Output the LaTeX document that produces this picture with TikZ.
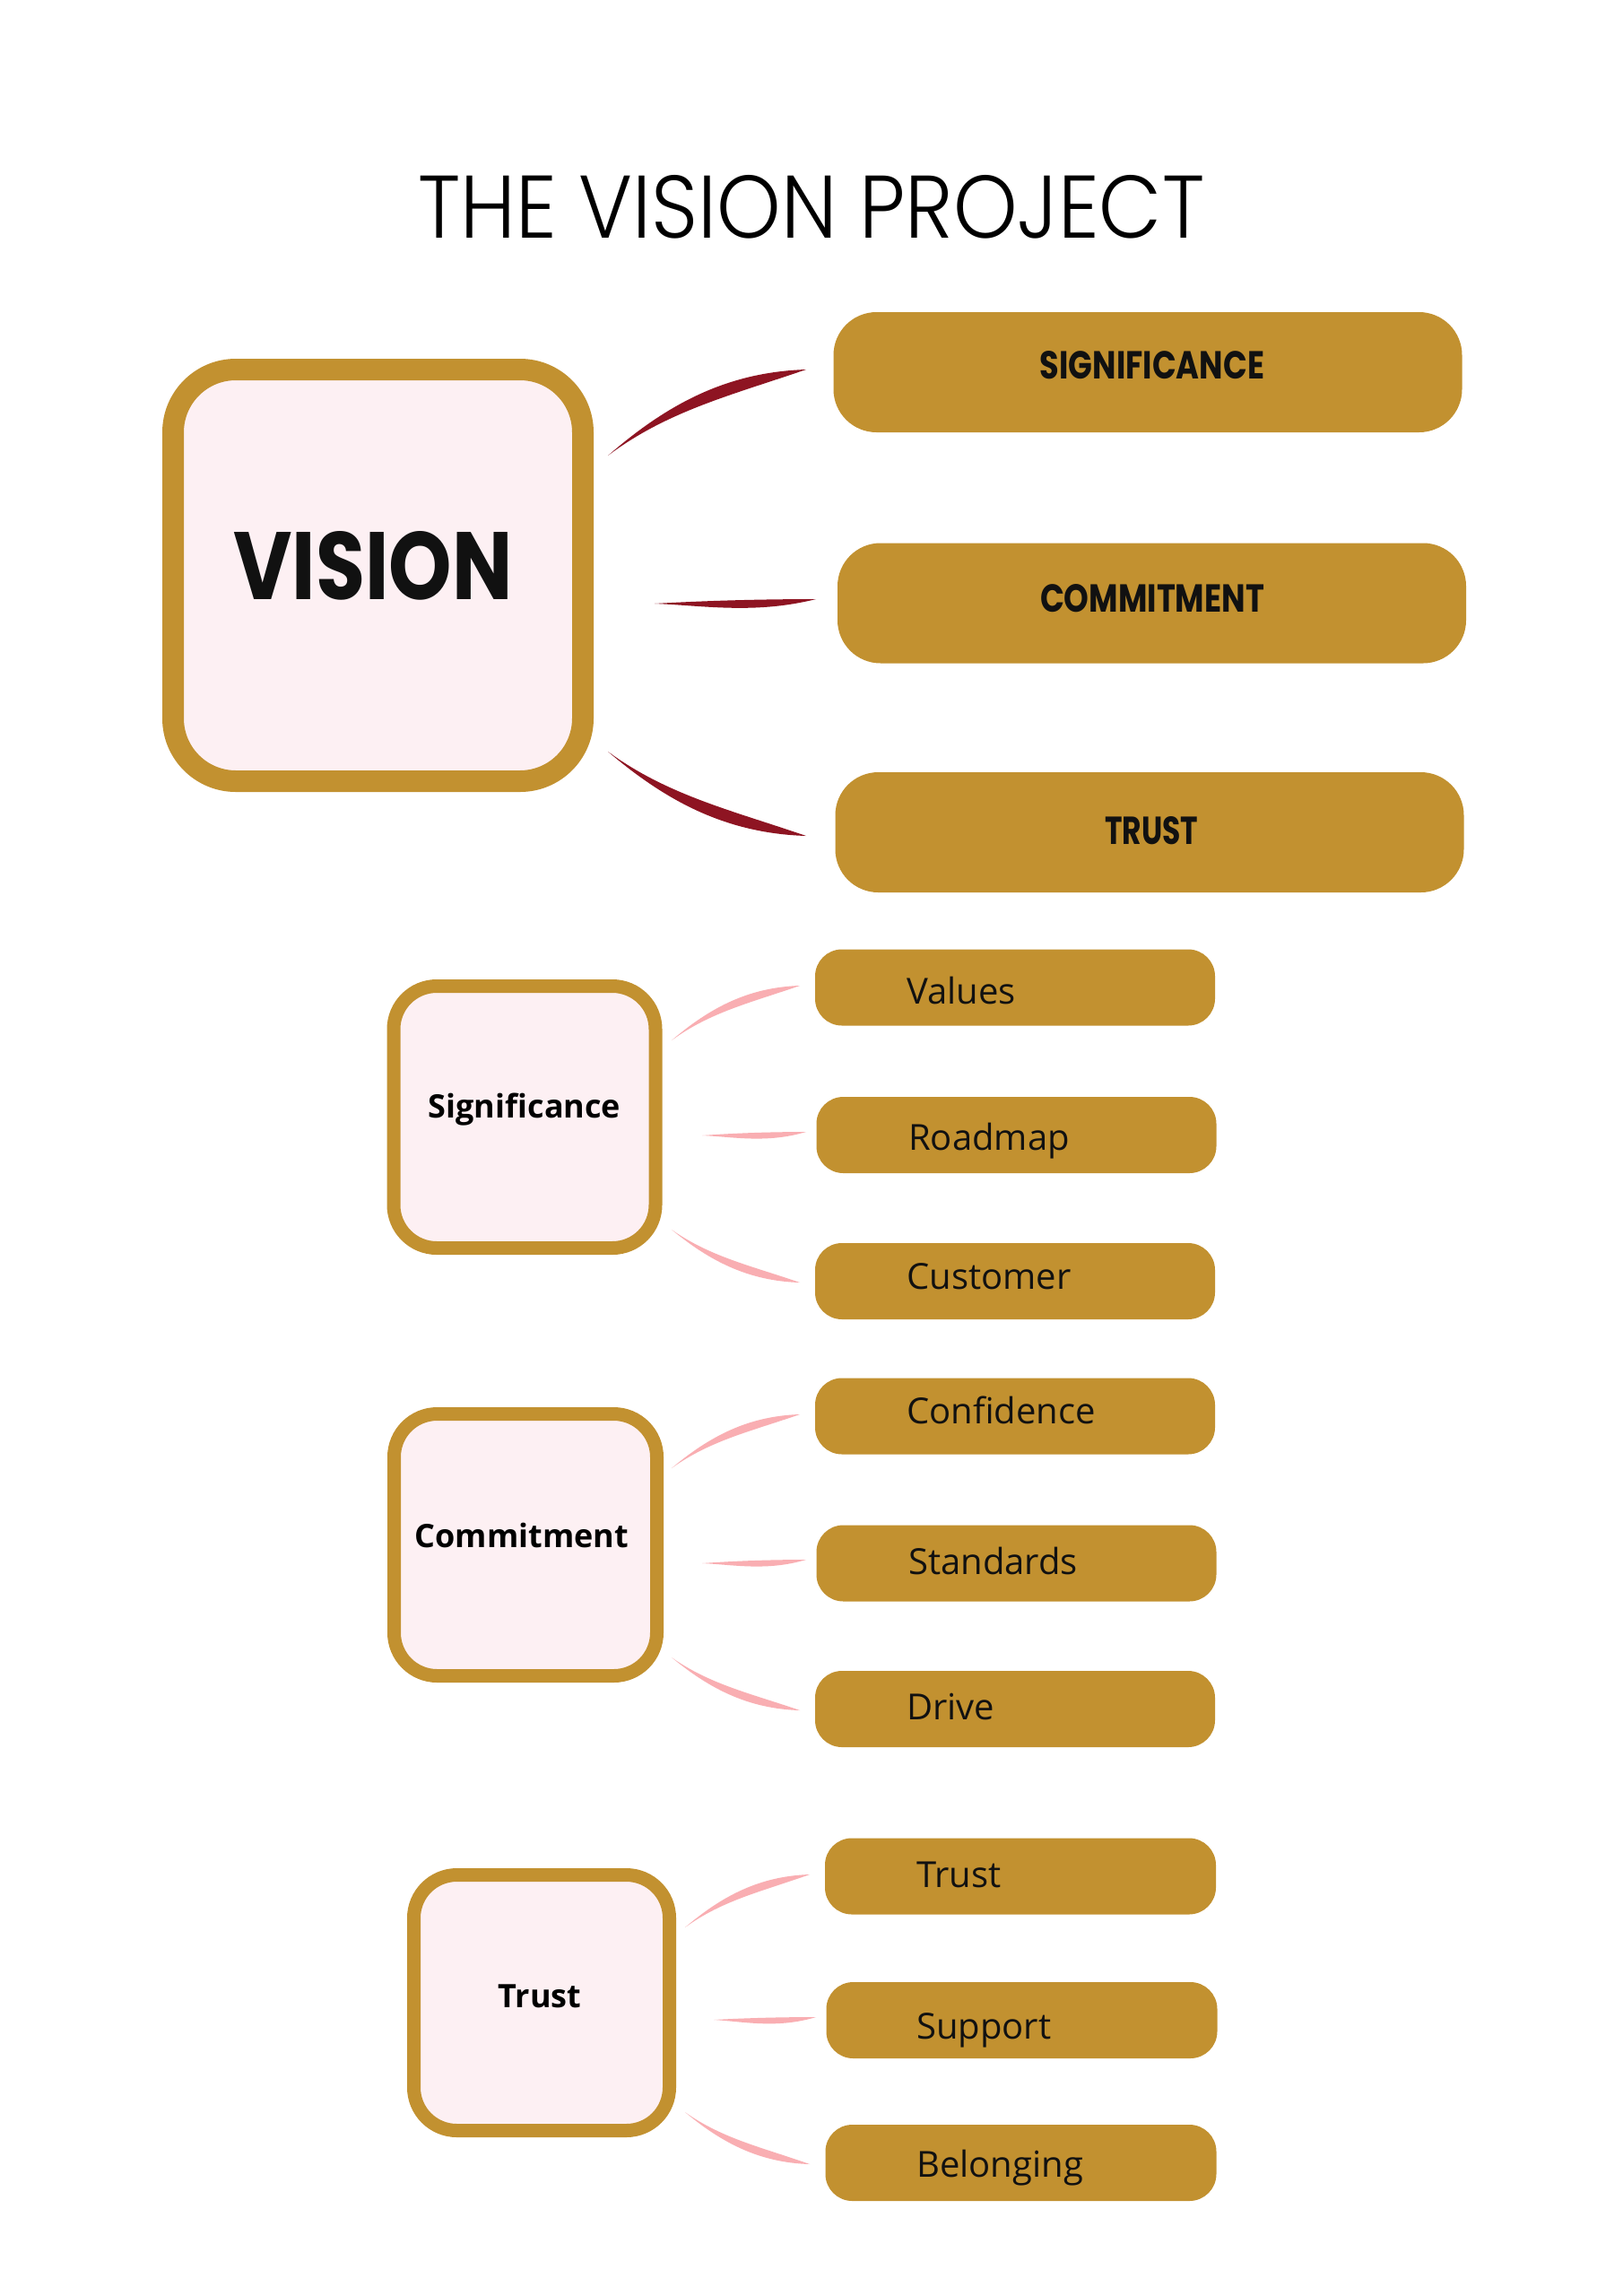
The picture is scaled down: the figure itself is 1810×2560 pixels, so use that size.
\documentclass[tikz,border=0pt]{standalone}
\usepackage{fontspec}
\setmainfont{Open Sans}
\newfontfamily\titlefont{Poppins}
\newfontfamily\titlelight{Poppins}[UprightFont=* Light]
\usetikzlibrary{calc}
\definecolor{gold}{HTML}{C29130}
\definecolor{blush}{HTML}{FDF0F3}
\definecolor{crimson}{HTML}{8E1422}
\definecolor{rose}{HTML}{F9AEB2}
\definecolor{ink}{HTML}{111111}
% tapered connector: #1 start, #2 end, #3 signed thickness offset, #4 colour
\newcommand\swoosh[4]{%
  \fill[#4] let \p1=(#1), \p2=(#2), \n1={\x2-\x1}, \n2={\y2-\y1} in
    (\p1) .. controls (\x1+0.3*\n1, \y1+0.6*\n2) and (\x1+0.6*\n1, \y1+0.97*\n2) .. (\p2)
          .. controls (\x1+0.62*\n1, \y1+0.97*\n2+#3) and (\x1+0.3*\n1, \y1+0.6*\n2+0.3*#3) .. (\p1) -- cycle;}
\begin{document}
\begin{tikzpicture}[x=1pt,y=-1pt,
  bigbox/.style={draw=gold, fill=blush, line width=24pt, rounded corners=70pt, inner sep=0pt, minimum width=457pt, minimum height=459pt},
  midbox/.style={draw=gold, fill=blush, line width=15pt, rounded corners=48pt, inner sep=0pt, minimum width=292pt, minimum height=292pt},
  headbox/.style={fill=gold, rounded corners=48pt, inner sep=0pt, minimum width=701pt, minimum height=134pt},
  childbox/.style={fill=gold, rounded corners=30pt, inner sep=0pt, minimum width=446pt, minimum height=85pt},
  childtxt/.style={anchor=base west, inner sep=0pt, font=\fontsize{40}{48}\selectfont, text=ink},
  parenttxt/.style={anchor=base, inner sep=0pt, font=\fontsize{36}{44}\selectfont\bfseries, text=black},
  headtxt/.style={anchor=base, inner sep=0pt, text=ink},
]
\useasboundingbox (0,0) rectangle (1810,2560);
\fill[white] (0,0) rectangle (1810,2560);

% title
\node[anchor=base west, inner sep=0pt] (title) at (466,265) {\resizebox{877pt}{70pt}{\titlelight THE VISION PROJECT}};

% top level
\node[bigbox] (vision) at (421.5,641.5) {};
\node[headtxt] (visiontxt) at (416,668) {\resizebox{311pt}{76pt}{\titlefont\bfseries VISION}};

\node[headbox] (hsig) at (1280,415) {};
\node[headtxt] at (1285,422) {\resizebox{250pt}{31pt}{\titlefont\bfseries SIGNIFICANCE}};
\node[headbox] (hcom) at (1284.5,672.5) {};
\node[headtxt] at (1285,682) {\resizebox{250pt}{31pt}{\titlefont\bfseries COMMITMENT}};
\node[headbox] (htru) at (1282,928) {};
\node[headtxt] at (1284,941) {\resizebox{104pt}{31pt}{\titlefont\bfseries TRUST}};

\coordinate (v1s) at (678,508);  \coordinate (v1e) at (899,412);
\coordinate (v2s) at (730,673);  \coordinate (v2e) at (910,668);
\coordinate (v3s) at (678,838);  \coordinate (v3e) at (899,932);
\swoosh{v1s}{v1e}{-26}{crimson}
\swoosh{v2s}{v2e}{-17}{crimson}
\swoosh{v3s}{v3e}{26}{crimson}

% Significance
\node[midbox] (psig) at (585,1245.5) {};
\node[parenttxt] at (585,1246) {Significance};
\node[childbox] (values) at (1132,1101) {};
\node[childtxt] at (1011,1119) {Values};
\node[childbox] (roadmap) at (1133.5,1265.5) {};
\node[childtxt] at (1013,1282) {Roadmap};
\node[childbox] (customer) at (1132,1428.5) {};
\node[childtxt] at (1011,1437) {Customer};
\coordinate (s1s) at (749,1160); \coordinate (s1e) at (892,1099);
\coordinate (s2s) at (783,1266); \coordinate (s2e) at (899,1262);
\coordinate (s3s) at (749,1371); \coordinate (s3e) at (892,1430);
\swoosh{s1s}{s1e}{-17}{rose}
\swoosh{s2s}{s2e}{-13}{rose}
\swoosh{s3s}{s3e}{17}{rose}

% Commitment
\node[midbox, minimum width=293pt] (pcom) at (586,1722.5) {};
\node[parenttxt] at (582,1725) {Commitment};
\node[childbox] (confidence) at (1132,1579) {};
\node[childtxt] at (1011,1587) {Confidence};
\node[childbox] (standards) at (1133.5,1743) {};
\node[childtxt] at (1013,1755) {Standards};
\node[childbox] (drive) at (1132,1905.5) {};
\node[childtxt] at (1011,1917) {Drive};
\coordinate (c1s) at (749,1637); \coordinate (c1e) at (892,1577);
\coordinate (c2s) at (783,1743); \coordinate (c2e) at (899,1739);
\coordinate (c3s) at (749,1848); \coordinate (c3e) at (892,1907);
\swoosh{c1s}{c1e}{-17}{rose}
\swoosh{c2s}{c2e}{-13}{rose}
\swoosh{c3s}{c3e}{17}{rose}

% Trust
\node[midbox, minimum width=285pt, minimum height=285pt] (ptru) at (604,2233) {};
\node[parenttxt] at (602,2238) {Trust};
\node[childbox, minimum width=436pt] (trust) at (1138,2092) {};
\node[childtxt] at (1022,2104) {Trust};
\node[childbox, minimum width=436pt] (support) at (1139.5,2252.5) {};
\node[childtxt] at (1022,2273) {Support};
\node[childbox, minimum width=436pt] (belonging) at (1138.5,2411.5) {};
\node[childtxt] at (1022,2427) {Belonging};
\coordinate (t1s) at (764,2149); \coordinate (t1e) at (903,2090);
\coordinate (t2s) at (796,2252); \coordinate (t2e) at (910,2249);
\coordinate (t3s) at (764,2355); \coordinate (t3e) at (903,2413);
\swoosh{t1s}{t1e}{-17}{rose}
\swoosh{t2s}{t2e}{-13}{rose}
\swoosh{t3s}{t3e}{17}{rose}
\end{tikzpicture}
\end{document}
